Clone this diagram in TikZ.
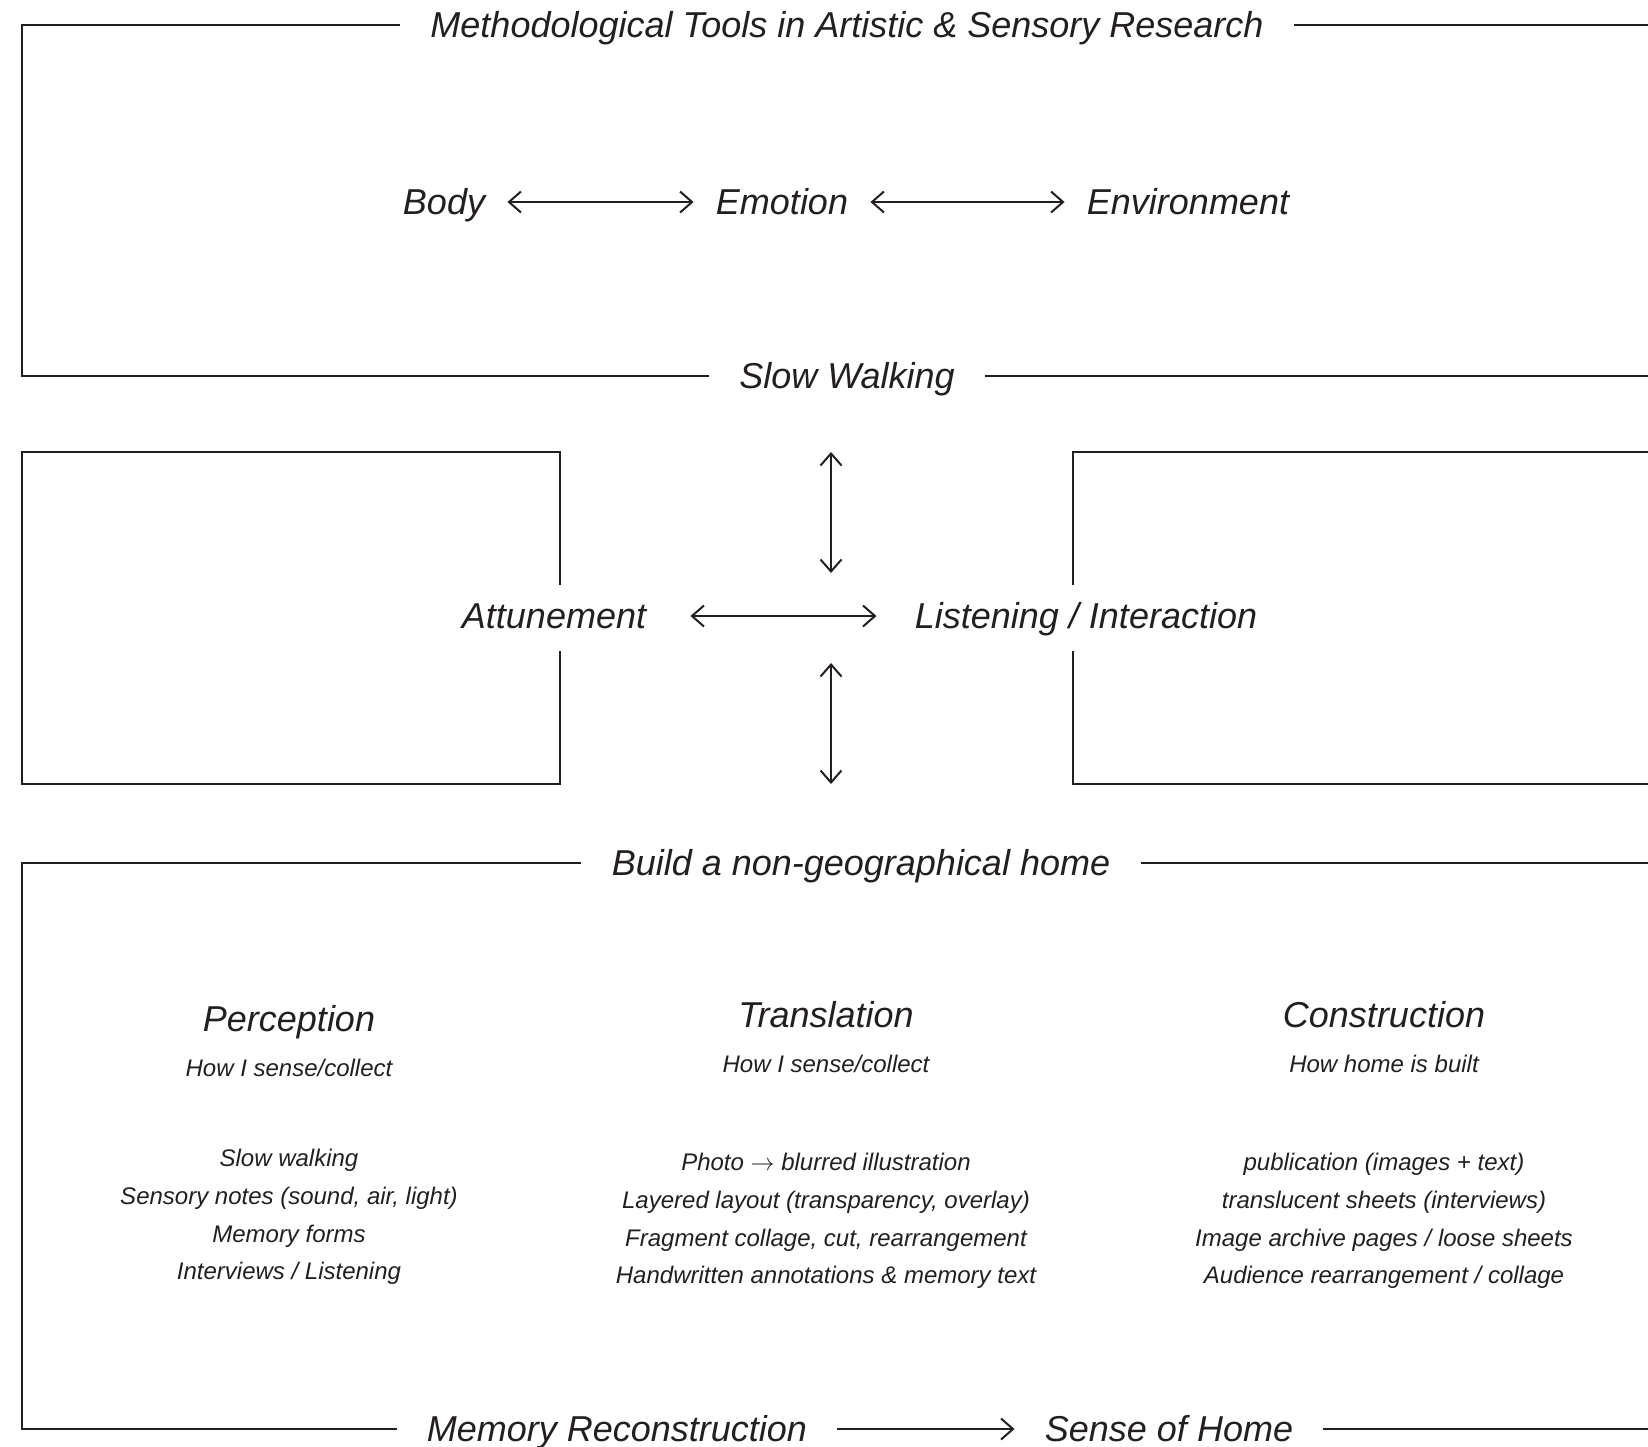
\documentclass[tikz,border=0pt]{standalone}
\usepackage{fontspec}
\setmainfont{Liberation Sans}
\usetikzlibrary{arrows.meta}

\definecolor{ink}{HTML}{231F20}

\begin{document}
\begin{tikzpicture}[x=0.5pt, y=-0.5pt,
  bigterm/.style={text=ink, font=\fontsize{18}{22}\selectfont\itshape,
    inner xsep=11pt, inner ysep=0pt, text height=14.5pt, text depth=2pt},
  frametitle/.style={bigterm, inner xsep=15pt},
  subnote/.style={text=ink, font=\fontsize{12}{14}\selectfont\itshape,
    inner sep=0pt, text height=9pt, text depth=2.5pt},
  itemlist/.style={text=ink, font=\fontsize{12}{18.9}\selectfont\itshape,
    align=center, inner sep=0pt},
  frame/.style={draw=ink, line width=0.7pt},
  dbl/.style={draw=ink, line width=1pt,
    {Straight Barb[length=6pt,width=10.5pt]}-{Straight Barb[length=6pt,width=10.5pt]}},
  ar/.style={draw=ink, line width=1pt, -{Straight Barb[length=6pt,width=10.5pt]}},
]
\useasboundingbox (0,0) rectangle (1648,1446);

%--- Top frame: methodological tools ---
\node[frametitle] (tools) at (847,25) {Methodological Tools in Artistic \& Sensory Research};
\node[frametitle] (slow)  at (847,376) {Slow Walking};
\draw[frame] (tools.west) -| (22,376) -- (slow.west);
\draw[frame] (tools.east) -- (1648,25);
\draw[frame] (slow.east) -- (1648,376);

\node[bigterm] (body) at (444,202)  {Body};
\node[bigterm] (emo)  at (782,202)  {Emotion};
\node[bigterm] (env)  at (1188,202) {Environment};
\draw[dbl] (body) -- (emo);
\draw[dbl] (emo) -- (env);

%--- Middle: attunement / listening ---
\draw[frame] (560,585) |- (22,452) |- (560,784) -- (560,651);
\draw[frame] (1073,585) |- (1648,452);
\draw[frame] (1073,651) |- (1648,784);

\node[bigterm] (att) at (554,616)  {Attunement};
\node[bigterm] (lis) at (1086,616) {Listening / Interaction};
\draw[dbl, shorten <=11pt, shorten >=8pt] (att) -- (lis);

\coordinate (up1) at (831,452);
\coordinate (up2) at (831,573);
\coordinate (dn1) at (831,663);
\coordinate (dn2) at (831,784);
\draw[dbl] (up1) -- (up2);
\draw[dbl] (dn1) -- (dn2);

%--- Bottom frame: non-geographical home ---
\node[frametitle] (build)  at (861,863)  {Build a non-geographical home};
\node[frametitle] (memrec) at (617,1429) {Memory Reconstruction};
\node[frametitle] (home)   at (1169,1429) {Sense of Home};
\draw[frame] (build.west) -| (22,1429) -- (memrec.west);
\draw[frame] (build.east) -- (1648,863);
\draw[frame] (home.east) -- (1648,1429);
\draw[ar] (memrec) -- (home);

%--- Three columns ---
\node[bigterm] (perc)    at (289,1019) {Perception};
\node[subnote] (perchow) at (289,1070) {How I sense/collect};
\node[itemlist] (perclist) at (289,1217)
  {Slow walking\\Sensory notes (sound, air, light)\\Memory forms\\Interviews / Listening};

\node[bigterm] (trans)    at (826,1015) {Translation};
\node[subnote] (transhow) at (826,1066) {How I sense/collect};
\node[itemlist] (translist) at (826,1221)
  {Photo $\rightarrow$ blurred illustration\\Layered layout (transparency, overlay)\\Fragment collage, cut, rearrangement\\Handwritten annotations \& memory text};

\node[bigterm] (cons)    at (1384,1015) {Construction};
\node[subnote] (conshow) at (1384,1066) {How home is built};
\node[itemlist] (conslist) at (1384,1221)
  {publication (images + text)\\translucent sheets (interviews)\\Image archive pages / loose sheets\\Audience rearrangement / collage};

\end{tikzpicture}
\end{document}
